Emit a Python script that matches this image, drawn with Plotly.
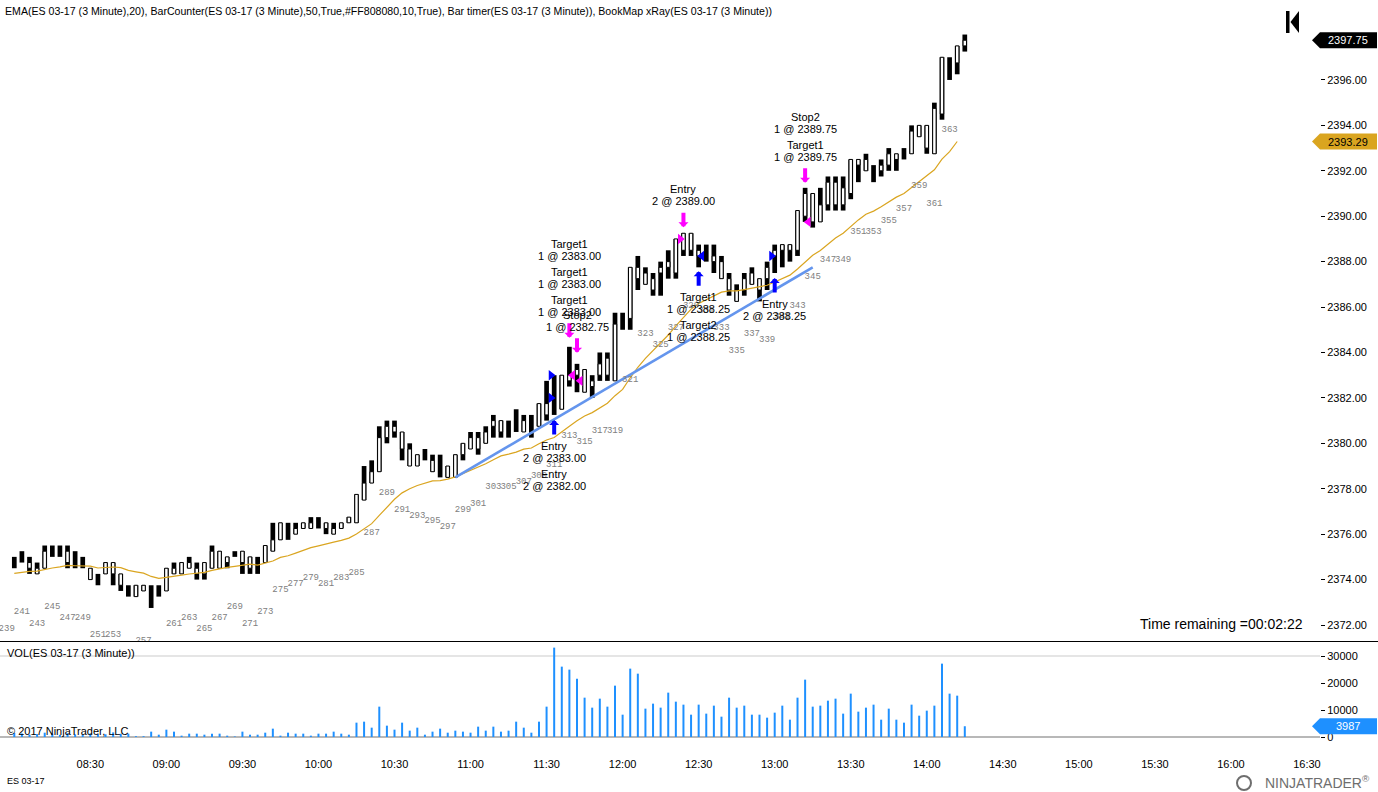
import plotly.graph_objects as go
from datetime import datetime, timedelta

# ---------------- data ----------------
bar_numbers = list(range(240, 366))
opens = [2375.0, 2375.25, 2374.5, 2374.25, 2374.5, 2375.5, 2375.5, 2374.75, 2375.25, 2375.0,
         2374.0, 2374.25, 2374.25, 2374.25, 2373.75, 2373.75, 2373.25, 2373.5, 2373.75, 2373.75,
         2373.5, 2374.25, 2374.25, 2374.5, 2374.25, 2374.25, 2374.5, 2374.5, 2374.75, 2375.25,
         2374.75, 2374.5, 2375.0, 2374.75, 2375.25, 2375.75, 2376.5, 2376.0, 2376.25, 2376.25,
         2376.75, 2376.25, 2376.0, 2376.25, 2376.5, 2376.5, 2377.5, 2378.25, 2378.75, 2380.25,
         2380.5, 2379.75, 2379.0, 2379.0, 2379.75, 2378.75, 2379.5, 2378.5, 2378.5, 2379.5,
         2379.75, 2379.75, 2380.0, 2380.75, 2380.5, 2381.0, 2381.5, 2380.5, 2381.25, 2380.75,
         2381.25, 2383.0, 2381.5, 2382.75, 2383.0, 2382.25, 2382.5, 2383.0, 2383.0, 2382.75,
         2385.75, 2385.5, 2387.25, 2387.0, 2386.75, 2387.5, 2387.75, 2387.5, 2388.5, 2388.5,
         2388.25, 2388.75, 2388.0, 2387.25, 2386.75, 2386.25, 2386.75, 2387.0, 2386.75, 2387.25,
         2388.25, 2388.5, 2388.5, 2388.5, 2390.0, 2389.75, 2389.75, 2390.5, 2390.5, 2390.5,
         2391.0, 2392.25, 2392.0, 2392.25, 2392.0, 2392.25, 2392.5, 2393.0, 2392.75, 2393.5,
         2393.0, 2392.75, 2394.5, 2397.0, 2396.75, 2397.5]
highs = [2375.0, 2375.25, 2375.0, 2374.75, 2375.5, 2375.5, 2375.5, 2375.5, 2375.25, 2375.0,
         2374.5, 2374.25, 2374.75, 2374.75, 2374.25, 2373.75, 2373.75, 2373.75, 2373.75, 2373.75,
         2374.5, 2374.75, 2374.75, 2375.0, 2374.75, 2374.75, 2375.5, 2375.25, 2375.0, 2375.25,
         2375.25, 2375.0, 2375.0, 2375.5, 2376.5, 2376.5, 2376.5, 2376.5, 2376.5, 2376.75,
         2376.75, 2376.5, 2376.5, 2376.5, 2376.75, 2377.75, 2379.0, 2379.25, 2380.75, 2381.0,
         2381.0, 2380.5, 2380.0, 2379.5, 2379.75, 2379.5, 2379.5, 2379.0, 2379.5, 2380.0,
         2380.5, 2380.5, 2380.75, 2381.25, 2381.0, 2381.0, 2381.5, 2381.25, 2381.25, 2381.75,
         2382.75, 2383.0, 2383.0, 2384.25, 2383.5, 2383.25, 2383.0, 2384.0, 2384.0, 2385.75,
         2385.75, 2387.75, 2388.25, 2387.75, 2387.5, 2388.0, 2388.5, 2389.0, 2389.25, 2389.25,
         2388.75, 2388.75, 2388.75, 2388.25, 2387.5, 2387.0, 2387.5, 2387.75, 2387.25, 2388.0,
         2388.75, 2388.75, 2388.75, 2390.25, 2391.25, 2391.0, 2391.25, 2391.75, 2391.75, 2391.75,
         2392.5, 2392.5, 2392.75, 2392.25, 2392.5, 2393.0, 2392.75, 2393.0, 2394.0, 2394.0,
         2394.0, 2395.0, 2397.0, 2397.0, 2397.5, 2398.0]
lows = [2374.5, 2374.75, 2374.25, 2374.25, 2374.5, 2375.0, 2375.0, 2374.5, 2374.5, 2374.5,
        2374.0, 2373.75, 2374.25, 2373.75, 2373.5, 2373.25, 2373.25, 2373.5, 2372.75, 2373.25,
        2373.5, 2374.25, 2374.25, 2374.5, 2374.0, 2374.0, 2374.5, 2374.5, 2374.5, 2375.0,
        2374.25, 2374.25, 2374.25, 2374.75, 2375.25, 2375.75, 2375.75, 2376.0, 2376.25, 2376.25,
        2376.25, 2376.0, 2376.0, 2376.25, 2376.5, 2376.5, 2377.5, 2378.25, 2378.75, 2380.0,
        2380.25, 2379.25, 2379.0, 2379.0, 2379.25, 2378.75, 2378.5, 2378.5, 2378.5, 2379.25,
        2379.75, 2379.5, 2380.0, 2380.25, 2380.25, 2380.25, 2380.5, 2380.5, 2380.25, 2380.75,
        2381.0, 2381.25, 2381.5, 2382.5, 2382.25, 2382.25, 2382.0, 2382.75, 2382.75, 2382.75,
        2385.0, 2385.0, 2386.75, 2387.0, 2386.5, 2386.5, 2387.25, 2387.25, 2388.25, 2388.25,
        2387.75, 2388.0, 2387.5, 2387.25, 2386.5, 2386.25, 2386.5, 2387.0, 2386.25, 2386.75,
        2387.5, 2387.75, 2388.0, 2388.25, 2389.75, 2389.5, 2389.75, 2390.25, 2390.25, 2390.25,
        2390.75, 2391.5, 2392.0, 2391.5, 2391.75, 2392.0, 2392.0, 2392.5, 2392.75, 2393.5,
        2392.75, 2392.75, 2394.25, 2396.0, 2396.25, 2397.25]
closes = [2374.5, 2374.75, 2374.75, 2374.5, 2375.25, 2375.0, 2375.0, 2375.25, 2374.5, 2374.5,
          2374.5, 2373.75, 2374.75, 2374.75, 2374.25, 2373.25, 2373.75, 2373.75, 2372.75, 2373.25,
          2374.5, 2374.5, 2374.75, 2374.75, 2374.5, 2374.75, 2375.25, 2375.25, 2375.0, 2375.0,
          2375.25, 2375.0, 2374.25, 2375.5, 2375.75, 2376.5, 2375.75, 2376.25, 2376.5, 2376.5,
          2376.25, 2376.5, 2376.25, 2376.5, 2376.75, 2377.75, 2378.25, 2378.75, 2380.25, 2380.75,
          2380.75, 2380.5, 2379.75, 2379.5, 2379.25, 2379.25, 2378.5, 2379.0, 2379.5, 2380.0,
          2380.25, 2380.25, 2380.5, 2381.0, 2381.0, 2380.25, 2380.5, 2381.0, 2380.25, 2381.75,
          2381.75, 2381.25, 2383.0, 2383.0, 2383.25, 2383.25, 2382.75, 2383.5, 2383.75, 2385.25,
          2385.0, 2387.75, 2387.75, 2387.5, 2387.25, 2387.75, 2388.0, 2389.0, 2389.25, 2389.25,
          2388.5, 2388.0, 2388.25, 2388.0, 2387.25, 2386.75, 2387.25, 2387.5, 2387.25, 2387.75,
          2388.5, 2388.75, 2388.75, 2390.25, 2391.0, 2391.0, 2390.5, 2391.5, 2391.5, 2391.25,
          2392.5, 2392.5, 2392.5, 2391.5, 2392.25, 2392.75, 2392.75, 2392.5, 2393.75, 2394.0,
          2394.0, 2394.75, 2397.0, 2396.0, 2397.5, 2397.75]
volumes = [1500, 1300, 900, 1100, 1600, 1200, 800, 1400, 1000, 900,
           1300, 1100, 1000, 1700, 1200, 1235, 300, 300, 1980, 860,
           2720, 1980, 500, 1235, 1235, 860, 1235, 1235, 500, 200,
           1980, 860, 860, 1600, 3090, 500, 1600, 1235, 1235, 500,
           1235, 1235, 1980, 1235, 860, 5310, 5680, 3460, 11240, 4200,
           2720, 5310, 2350, 3460, 860, 1980, 3090, 1600, 2350, 1980,
           1600, 3830, 2350, 3830, 1980, 2350, 5680, 3460, 1600, 5680,
           11240, 33100, 26060, 24950, 21610, 14570, 10870, 14200, 11240, 19020,
           8270, 25320, 23460, 10500, 12350, 10870, 16430, 13090, 11980, 8270,
           11980, 8650, 11610, 7530, 14570, 10870, 11610, 8270, 8270, 7160,
           9020, 11610, 6420, 14570, 21240, 11240, 11610, 13460, 14200, 8650,
           16060, 9390, 10870, 11980, 6420, 10500, 6420, 5310, 11980, 7900,
           9760, 11610, 27170, 16060, 15310, 3987]

ema_period = 20
ema_seed = 2374.25          # EMA value read at the bar before the first drawn bar
hidden_bar_label = (239, 2374.0)   # counter label of the bar just left of the first drawn bar

trend_start = (298, 2378.5)
trend_end = (345, 2387.75)

# order markers: (bar, side, tip gap px, [(name, qty@price), ...])
order_events = [
    (311, "buy", 5, [("Entry", "2 @ 2383.00"), ("Entry", "2 @ 2382.00")]),
    (313, "sell", 9, [("Target1", "1 @ 2383.00"), ("Target1", "1 @ 2383.00"), ("Target1", "1 @ 2383.00")]),
    (314, "sell", 11, [("Stop2", "1 @ 2382.75")]),
    (328, "sell", 6, [("Entry", "2 @ 2389.00")]),
    (330, "buy", 4, [("Target1", "1 @ 2388.25"), ("Target2", "1 @ 2388.25")]),
    (340, "buy", 5, [("Entry", "2 @ 2388.25")]),
    (344, "sell", 5, [("Target1", "1 @ 2389.75"), ("Stop2", "1 @ 2389.75")]),
]
# execution triangles: (bar, price, colour, pointing)
fills = [
    (311, 2383.0, "#0000FF", "right"), (311, 2382.0, "#0000FF", "right"),
    (313, 2383.0, "#FF00FF", "left"), (314, 2382.75, "#FF00FF", "left"),
    (328, 2389.0, "#FF00FF", "right"), (330, 2388.25, "#0000FF", "left"),
    (340, 2388.25, "#0000FF", "right"), (344, 2389.75, "#FF00FF", "left"),
]

price_ticks = [2372, 2374, 2376, 2378, 2380, 2382, 2384, 2386, 2388, 2390, 2392, 2394, 2396]
volume_ticks = [0, 10000, 20000, 30000]
time_ticks = ["08:30", "09:00", "09:30", "10:00", "10:30", "11:00", "11:30", "12:00", "12:30",
              "13:00", "13:30", "14:00", "14:30", "15:00", "15:30", "16:00", "16:30"]

# ---------------- layout constants ----------------
W, H = 1378, 792
ML, MR, MT, MB = 0, 58, 22, 47
PW, PH = W - ML - MR, H - MT - MB
first_bar_px = 14.3
bar_px = 7.604
day = "2017-03-09"
session_start = datetime(2017, 3, 9, 8, 0)
bar_minutes = 3


def t(n):
    return session_start + timedelta(minutes=bar_minutes * (n - 240))


def px_x(px):
    return (px - ML) / PW


def px_y(py):
    return (H - MB - py) / PH


x_start = session_start - timedelta(minutes=bar_minutes * first_bar_px / bar_px)
x_end = session_start + timedelta(minutes=bar_minutes * (PW - first_bar_px) / bar_px)

price_dom = [px_y(641), 1.0]
vol_dom = [0.0, px_y(643)]
px_per_pt = 22.71
price_range = [2372 - (641 - 625) / px_per_pt, 2372 + (625 - 22) / px_per_pt]
vol_px_per_unit = 81 / 30000
vol_range = [-(745 - 737) / vol_px_per_unit, (737 - 643) / vol_px_per_unit]

times = [t(n) for n in bar_numbers]
bw = 180000 * 4.7 / bar_px

# EMA of the closes, calculated on bar close (the forming last bar is not included)
k = 2 / (ema_period + 1)
ema = []
prev = ema_seed
for c in closes[:-1]:
    prev = prev + k * (c - prev)
    ema.append(prev)

fig = go.Figure()

# full-range black bars
fig.add_trace(go.Bar(x=times, y=[h - l for h, l in zip(highs, lows)], base=lows, width=bw,
                     marker=dict(color="black", line=dict(width=0)), yaxis="y", hoverinfo="skip"))
# hollow bodies of up bars
up = [i for i in range(len(bar_numbers)) if closes[i] > opens[i]]
fig.add_trace(go.Bar(x=[times[i] for i in up], y=[closes[i] - opens[i] for i in up],
                     base=[opens[i] for i in up], width=bw - 30000,
                     marker=dict(color="white", line=dict(color="black", width=1)),
                     yaxis="y", hoverinfo="skip"))
# EMA
fig.add_trace(go.Scatter(x=times[:-1], y=ema, mode="lines", line=dict(color="#DAA520", width=1.2),
                         yaxis="y", hoverinfo="skip"))
# trend line
fig.add_trace(go.Scatter(x=[t(trend_start[0]), t(trend_end[0])], y=[trend_start[1], trend_end[1]],
                         mode="lines", line=dict(color="#6495ED", width=2.6), yaxis="y"))
# fill triangles
off = timedelta(seconds=75)
for bar, price, col, point in fills:
    fig.add_trace(go.Scatter(x=[t(bar) - off if point == "right" else t(bar) + off], y=[price],
                             mode="markers", yaxis="y",
                             marker=dict(symbol="triangle-" + point, size=9, color=col, line=dict(width=0))))
# bar counter labels (closed bars only)
label_gap = 49.5 / px_per_pt
odd = [i for i, n in enumerate(bar_numbers[:-1]) if n % 2 == 1]
cx = [t(hidden_bar_label[0])] + [times[i] for i in odd]
cy = [hidden_bar_label[1] - label_gap] + [lows[i] - label_gap for i in odd]
ct = [str(hidden_bar_label[0])] + [str(bar_numbers[i]) for i in odd]
fig.add_trace(go.Scatter(x=cx, y=cy, text=ct, mode="text", yaxis="y",
                         textfont=dict(family="Liberation Mono, Courier New, monospace", size=9, color="#808080"),
                         textposition="middle center", cliponaxis=True))
# volume
fig.add_trace(go.Bar(x=times, y=volumes, width=180000 * 2.0 / bar_px, marker=dict(color="#1E90FF", line=dict(width=0)),
                     yaxis="y2", hoverinfo="skip"))

font = "Liberation Sans, Arial, sans-serif"
ann = []
for bar, side, gap, blocks in order_events:
    i = bar_numbers.index(bar)
    col = "#FF00FF" if side == "sell" else "#0000FF"
    yref_val = highs[i] if side == "sell" else lows[i]
    sgn = 1 if side == "sell" else -1
    ann.append(dict(x=t(bar), y=yref_val, xref="x", yref="y", text="", showarrow=True,
                    ax=0, ay=-16 * sgn, arrowhead=1, arrowsize=0.42, arrowwidth=4,
                    arrowcolor=col, yshift=sgn * gap, standoff=0))
    for kb, (name, qty) in enumerate(blocks):
        if side == "sell":
            lines = [(qty, 26 + 28 * kb), (name, 38 + 28 * kb)]
        else:
            lines = [(name, 26 + 28 * kb), (qty, 38 + 28 * kb)]
        for txt, dy in lines:
            ann.append(dict(x=t(bar), y=yref_val, xref="x", yref="y", text=txt, showarrow=False,
                            yshift=sgn * (gap + dy), font=dict(family=font, size=11, color="black"),
                            xanchor="center", yanchor="middle"))

ann += [
    dict(x=px_x(3), y=px_y(11), xref="paper", yref="paper", xanchor="left", yanchor="middle", showarrow=False,
         text="EMA(ES 03-17 (3 Minute),20), BarCounter(ES 03-17 (3 Minute),50,True,#FF808080,10,True), "
              "Bar timer(ES 03-17 (3 Minute)), BookMap xRay(ES 03-17 (3 Minute))",
         font=dict(family=font, size=10.6, color="black")),
    dict(x=px_x(1305), y=px_y(624), xref="paper", yref="paper", xanchor="right", yanchor="middle",
         showarrow=False, text="Time remaining =00:02:22", font=dict(family=font, size=14, color="black")),
    dict(x=px_x(5), y=px_y(653), xref="paper", yref="paper", xanchor="left", yanchor="middle", showarrow=False,
         text="VOL(ES 03-17 (3 Minute))", font=dict(family=font, size=11, color="black")),
    dict(x=px_x(5), y=px_y(731), xref="paper", yref="paper", xanchor="left", yanchor="middle", showarrow=False,
         text="© 2017 NinjaTrader, LLC", font=dict(family=font, size=11, color="black")),
    dict(x=px_x(5), y=px_y(781), xref="paper", yref="paper", xanchor="left", yanchor="middle", showarrow=False,
         text="ES 03-17", font=dict(family=font, size=9, color="black")),
    dict(x=px_x(1372), y=px_y(782), xref="paper", yref="paper", xanchor="right", yanchor="middle", showarrow=False,
         text="NINJATRADER<sup>®</sup>", font=dict(family=font, size=14, color="#6e6e6e")),
]

# right-axis value tags
tags = [
    ("y", closes[-1], f"{closes[-1]:.2f}", "black", "white", 8 / px_per_pt),
    ("y", ema[-1], f"{ema[-1]:.2f}", "#DAA520", "black", 8 / px_per_pt),
    ("y2", volumes[-1], f"{volumes[-1]}", "#1E90FF", "white", 8 / vol_px_per_unit),
]
shapes = []
for yr, val, txt, bg, fg, h in tags:
    x0, x1, x2 = px_x(1312), px_x(1320), px_x(1377)
    shapes.append(dict(type="path", xref="paper", yref=yr, fillcolor=bg, line=dict(width=0), layer="above",
                       path=f"M {x0},{val} L {x1},{val + h} L {x2},{val + h} L {x2},{val - h} L {x1},{val - h} Z"))
    ann.append(dict(x=px_x(1348), y=val, xref="paper", yref=yr, text=txt, showarrow=False,
                    xanchor="center", yanchor="middle", font=dict(family=font, size=11, color=fg)))

shapes += [
    dict(type="line", xref="paper", yref="paper", x0=0, x1=px_x(W), y0=px_y(641.5), y1=px_y(641.5),
         line=dict(color="black", width=1.2)),
    dict(type="line", xref="paper", yref="y2", x0=0, x1=1, y0=30000, y1=30000,
         line=dict(color="#dcdcdc", width=1.5), layer="below"),
    dict(type="line", xref="paper", yref="y2", x0=0, x1=1, y0=0, y1=0,
         line=dict(color="#a0a0a0", width=1.5), layer="below"),
    dict(type="rect", xref="paper", yref="paper", x0=px_x(1286), x1=px_x(1289.5), y0=px_y(33), y1=px_y(11),
         fillcolor="black", line=dict(width=0)),
    dict(type="path", xref="paper", yref="paper", fillcolor="black", line=dict(width=0),
         path=f"M {px_x(1299)},{px_y(11)} L {px_x(1299)},{px_y(33)} L {px_x(1290.5)},{px_y(22)} Z"),
    dict(type="circle", xref="paper", yref="paper", x0=px_x(1237), x1=px_x(1251), y0=px_y(790), y1=px_y(776),
         line=dict(color="#6e6e6e", width=2)),
]

fig.update_layout(
    width=W, height=H, margin=dict(l=ML, r=MR, t=MT, b=MB, autoexpand=False),
    paper_bgcolor="white", plot_bgcolor="white", showlegend=False, barmode="overlay",
    hovermode=False, annotations=ann, shapes=shapes,
    xaxis=dict(type="date", range=[x_start, x_end], anchor="y2", tickmode="array",
               tickvals=[f"{day} {s}" for s in time_ticks], ticktext=time_ticks,
               showgrid=False, zeroline=False, automargin=False,
               ticks="outside", ticklen=9, tickcolor="rgba(0,0,0,0)", showline=False,
               tickfont=dict(family=font, size=11, color="black")),
    yaxis=dict(domain=price_dom, range=price_range, side="right", anchor="x", tickmode="array",
               tickvals=price_ticks, ticktext=[f"{v:.2f}" for v in price_ticks], showgrid=False,
               zeroline=False, ticks="outside", ticklen=4, tickcolor="black", showline=False, automargin=False,
               tickfont=dict(family=font, size=11, color="black")),
    yaxis2=dict(domain=vol_dom, range=vol_range, side="right", anchor="x", tickmode="array",
                tickvals=volume_ticks, ticktext=[str(v) for v in volume_ticks], showgrid=False,
                zeroline=False, ticks="outside", ticklen=4, tickcolor="black", showline=False, automargin=False,
                tickfont=dict(family=font, size=11, color="black")),
)

fig.write_html("out.html", config={"displayModeBar": False, "staticPlot": True},
               post_script="document.body.style.margin='0';document.body.style.overflow='hidden';")
